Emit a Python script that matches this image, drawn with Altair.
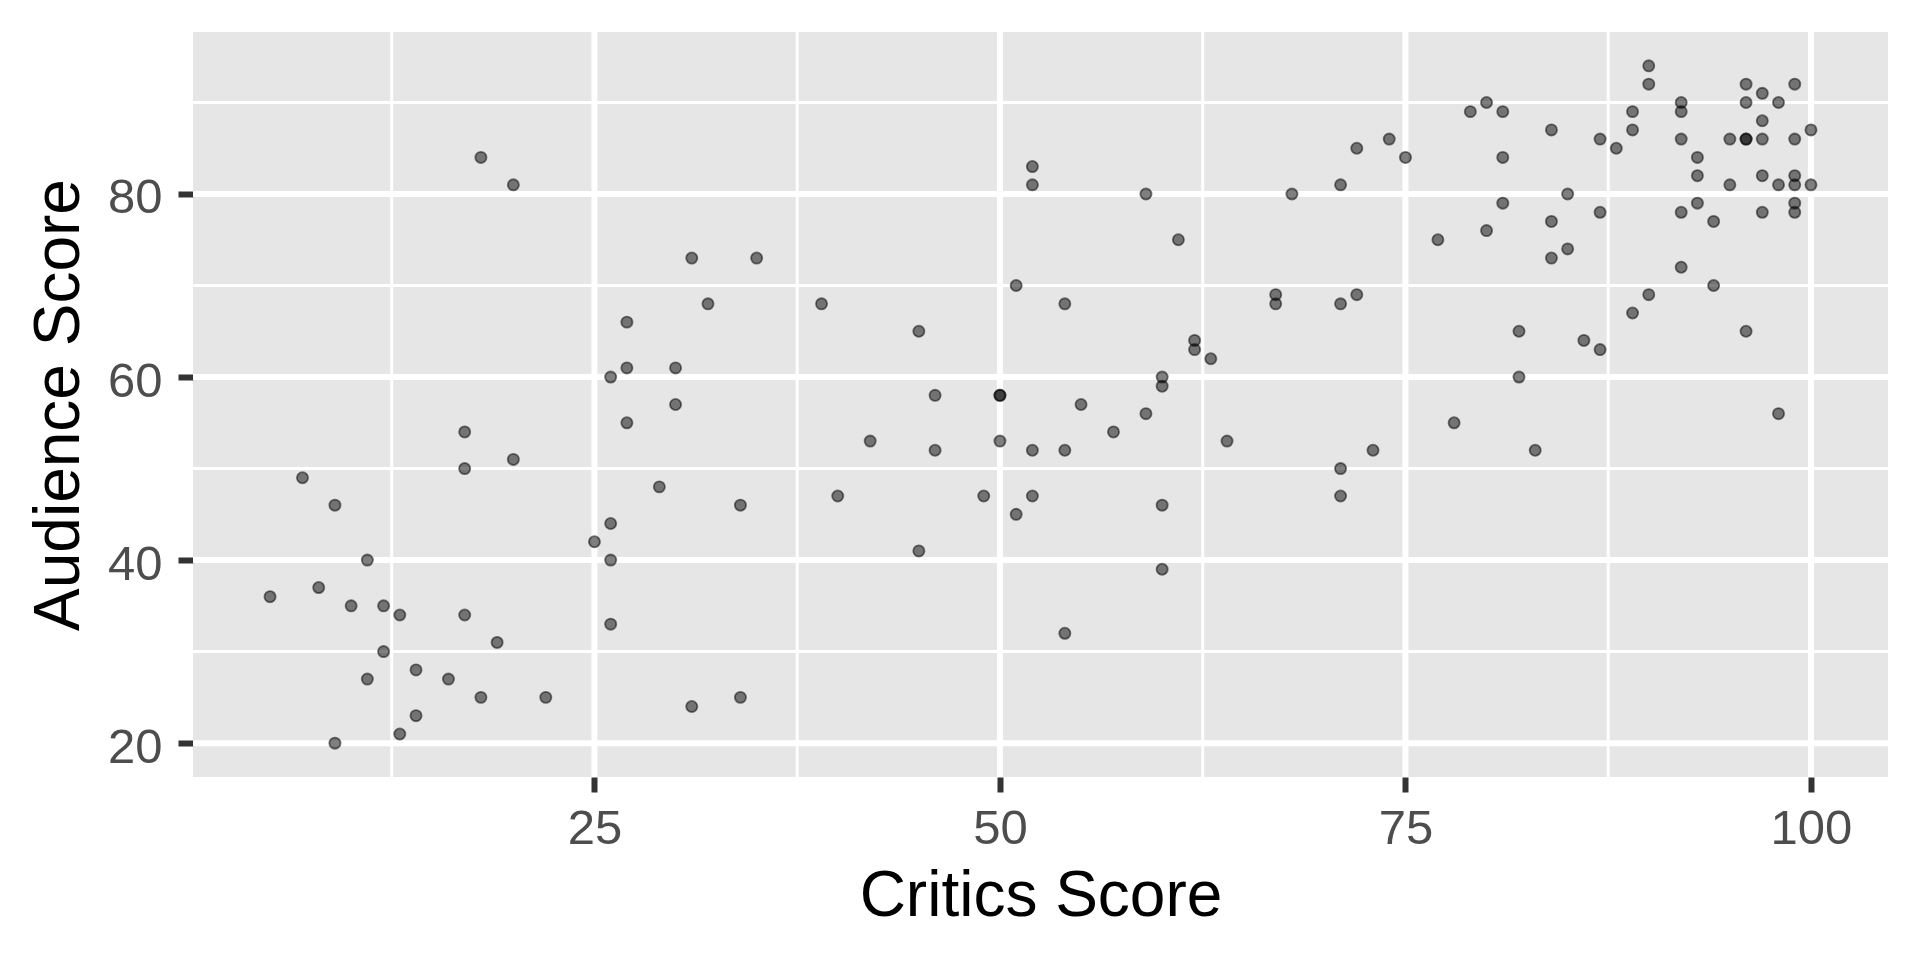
import altair as alt
import pandas as pd

# Rotten Tomatoes critics vs audience scores (146 films)
critics = [
    27, 17, 20, 17, 7, 9, 26, 25, 11, 26, 8, 5, 10, 12, 13, 17, 26, 19, 12, 14, 11, 16, 18, 22, 14, 13, 9,
    18, 20, 27, 27, 26,
    52, 52, 31, 35, 51, 32, 39, 54, 45, 30, 46, 50, 50,
    30, 55, 42, 46, 50, 52, 54, 29, 34, 40, 49, 52, 51, 45, 54, 31, 34,
    80, 79, 74, 72, 75, 71, 59, 68, 61, 77, 80, 67, 67, 71, 72, 62, 62, 63, 60, 60,
    59, 57, 64, 73, 71, 78, 60, 71, 60,
    90, 90, 96, 99, 97, 92, 96, 98, 81, 89, 92, 97, 84, 89, 100, 87, 92, 95, 96, 96, 97, 99,
    88, 81, 93, 93, 97, 99, 99, 95, 98, 100, 85, 81, 93, 99, 99, 87, 92, 97, 84, 94,
    85, 84, 92, 94, 90, 89, 82, 96, 86, 87, 82,
    83, 98,
]
audience = [
    55, 54, 51, 50, 49, 46, 44, 42, 40, 40, 37, 36, 35, 35, 34, 34, 33, 31, 30, 28, 27, 27, 25, 25, 23, 21, 20,
    84, 81, 66, 61, 60,
    83, 81, 73, 73, 70, 68, 68, 68, 65, 61, 58, 58, 58,
    57, 57, 53, 52, 53, 52, 52, 48, 46, 47, 47, 47, 45, 41, 32, 24, 25,
    90, 89, 86, 85, 84, 81, 80, 80, 75, 75, 76, 69, 68, 68, 69, 64, 63, 62, 60, 59,
    56, 54, 53, 52, 50, 55, 46, 47, 39,
    94, 92, 92, 92, 91, 90, 90, 90, 89, 89, 89, 88, 87, 87, 87, 86, 86, 86, 86, 86, 86, 86,
    85, 84, 84, 82, 82, 82, 81, 81, 81, 81, 80, 79, 79, 79, 78, 78, 78, 78, 77, 77,
    74, 73, 72, 70, 69, 67, 65, 65, 64, 63, 60,
    52, 56,
]

x_major = [25, 50, 75, 100]
x_minor = [12.5, 37.5, 62.5, 87.5]
y_major = [20, 40, 60, 80]
y_minor = [30, 50, 70, 90]

df = pd.DataFrame({"critics": critics, "audience": audience})

FONT = "Liberation Sans"
xscale = alt.Scale(domain=[0.25, 104.75], nice=False, zero=False)
yscale = alt.Scale(domain=[16.3, 97.7], nice=False, zero=False)

xaxis = alt.Axis(
    values=x_major, title="Critics Score", grid=False, domain=False,
    ticks=True, tickColor="#333333", tickWidth=6, tickSize=15,
    labelFont=FONT, labelFontSize=49, labelColor="#4D4D4D",
    labelBaseline="alphabetic", labelPadding=51, labelFlush=False, labelOverlap=False,
    titleFont=FONT, titleFontSize=64, titleColor="black", titleFontWeight="normal",
    titleX=847.5, titleY=138, titleBaseline="alphabetic", titleAlign="center",
)
yaxis = alt.Axis(
    values=y_major, title="Audience Score", grid=False, domain=False,
    ticks=True, tickColor="#333333", tickWidth=6, tickSize=15,
    labelFont=FONT, labelFontSize=49, labelColor="#4D4D4D",
    labelBaseline="alphabetic", labelOffset=19, labelPadding=16, labelAlign="right",
    labelFlush=False, labelOverlap=False,
    titleFont=FONT, titleFontSize=64, titleColor="black", titleFontWeight="normal",
    titleAngle=270, titleX=-115, titleY=372.5, titleBaseline="alphabetic", titleAlign="center",
)

vminor = alt.Chart(pd.DataFrame({"critics": x_minor})).mark_rule(color="white", strokeWidth=3).encode(
    x=alt.X("critics:Q", scale=xscale, axis=xaxis)
)
hminor = alt.Chart(pd.DataFrame({"audience": y_minor})).mark_rule(color="white", strokeWidth=3).encode(
    y=alt.Y("audience:Q", scale=yscale, axis=yaxis)
)
vmajor = alt.Chart(pd.DataFrame({"critics": x_major})).mark_rule(color="white", strokeWidth=6).encode(
    x=alt.X("critics:Q", scale=xscale, axis=xaxis)
)
hmajor = alt.Chart(pd.DataFrame({"audience": y_major})).mark_rule(color="white", strokeWidth=6).encode(
    y=alt.Y("audience:Q", scale=yscale, axis=yaxis)
)
points = alt.Chart(df).mark_circle(
    size=125, fill="black", fillOpacity=0.5, stroke="black", strokeOpacity=0.5,
    strokeWidth=1.8, opacity=1
).encode(
    x=alt.X("critics:Q", scale=xscale, axis=xaxis),
    y=alt.Y("audience:Q", scale=yscale, axis=yaxis),
)

chart = alt.layer(vminor, hminor, vmajor, hmajor, points).properties(
    width=1695, height=745,
    autosize=alt.AutoSizeParams(type="none"),
    padding={"left": 185, "top": 24, "right": 24, "bottom": 175},
    background="white",
).configure_view(fill="#E6E6E6", strokeWidth=0)

chart.save("out.html", embed_options={"renderer": "svg", "actions": False})
